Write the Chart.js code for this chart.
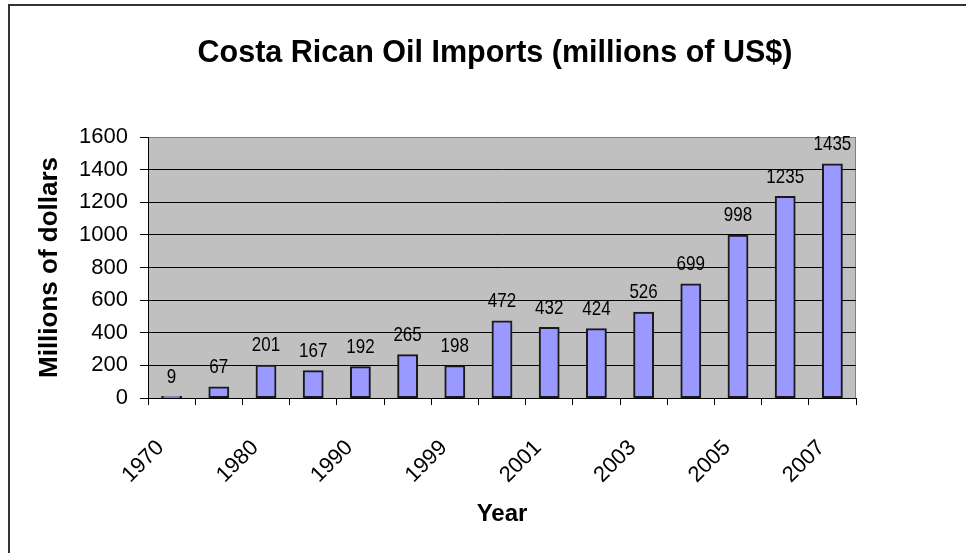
<!DOCTYPE html>
<html lang="en">
<head>
    <meta charset="UTF-8" />
    <title>Costa Rican Oil Imports</title>
    <script src="https://cdn.jsdelivr.net/npm/chart.js"></script>
    <style>
        body {
            margin: 0;
            background: #fff;
        }

        .frame {
            position: absolute;
            left: 8px;
            top: 4px;
            width: 1000px;
            height: 600px;
            border-top: 2px solid #333;
            border-left: 2px solid #333;
        }

        .chart-box {
            position: absolute;
            left: 0;
            top: 0;
            width: 966px;
            height: 553px;
        }
    </style>
</head>

<body>
    <div class="frame"></div>
    <div class="chart-box">
        <canvas id="oilChart"></canvas>
    </div>
</body>

</html>

<script>
    const years = ['1970', '1975', '1980', '1985', '1990', '1995', '1999', '2000',
        '2001', '2002', '2003', '2004', '2005', '2006', '2007'];
    const imports = [9, 67, 201, 167, 192, 265, 198, 472, 432, 424, 526, 699, 998, 1235, 1435];
    const yTicks = [0, 200, 400, 600, 800, 1000, 1200, 1400, 1600];

    const arial = "'Liberation Sans', Arial, sans-serif";

    // grey plot area + grey top/right edges like the Excel original
    const plotBackground = {
        id: 'plotBackground',
        beforeDraw(chart) {
            const { ctx, chartArea: a } = chart;
            ctx.save();
            ctx.fillStyle = '#C0C0C0';
            ctx.fillRect(a.left, a.top, a.right - a.left, a.bottom - a.top);
            ctx.strokeStyle = '#808080';
            ctx.lineWidth = 1;
            ctx.beginPath();
            ctx.moveTo(a.left, a.top + 0.5);
            ctx.lineTo(a.right - 0.5, a.top + 0.5);
            ctx.lineTo(a.right - 0.5, a.bottom);
            ctx.stroke();
            ctx.restore();
        }
    };

    // value labels above each bar (squeezed a bit, the original font is narrow)
    const valueLabels = {
        id: 'valueLabels',
        afterDatasetsDraw(chart) {
            const { ctx } = chart;
            const meta = chart.getDatasetMeta(0);
            ctx.save();
            ctx.font = '21px ' + arial;
            ctx.fillStyle = '#000';
            ctx.textAlign = 'center';
            ctx.textBaseline = 'alphabetic';
            meta.data.forEach((bar, i) => {
                ctx.save();
                ctx.translate(bar.x, bar.y - 14);
                ctx.scale(0.81, 1);
                ctx.fillText(imports[i], 0, 0);
                ctx.restore();
            });
            ctx.restore();
        }
    };

    const ctx = document.getElementById('oilChart').getContext('2d');

    new Chart(ctx, {
        type: 'bar',
        data: {
            labels: years,
            datasets: [{
                label: 'Oil imports',
                data: imports,
                backgroundColor: '#9999FF',
                borderColor: '#1a1a1a',
                borderWidth: 2,
                borderSkipped: false,
                inflateAmount: 0.5,
                categoryPercentage: 1,
                barPercentage: 0.42
            }]
        },
        options: {
            responsive: true,
            maintainAspectRatio: false,
            animation: false,
            layout: {
                padding: { left: 24, top: 0, right: 0, bottom: 0 }
            },
            plugins: {
                legend: { display: false },
                tooltip: { enabled: false },
                title: {
                    display: true,
                    text: 'Costa Rican Oil Imports (millions of US$)',
                    color: '#000',
                    font: { family: arial, size: 30.5, weight: 'bold', lineHeight: 1 },
                    padding: { top: 38, bottom: 68.5 }
                }
            },
            scales: {
                x: {
                    afterFit: (s) => { s.height = 155; },
                    grid: {
                        offset: true,
                        drawOnChartArea: false,
                        drawTicks: true,
                        tickLength: 7,
                        color: '#000'
                    },
                    border: { color: '#000', width: 1 },
                    ticks: {
                        autoSkip: false,
                        minRotation: 45,
                        maxRotation: 45,
                        padding: 30,
                        labelOffset: -11,
                        color: '#000',
                        font: { family: arial, size: 22 },
                        callback: (v, i) => (i % 2 === 0 ? years[i] : '')
                    },
                    title: {
                        display: true,
                        text: 'Year',
                        color: '#000',
                        font: { family: arial, size: 24, weight: 'bold', lineHeight: 1 },
                        padding: { top: 0, bottom: 27 }
                    }
                },
                y: {
                    min: yTicks[0],
                    max: yTicks[yTicks.length - 1],
                    afterFit: (s) => { s.width = 124; },
                    afterBuildTicks: (s) => { s.ticks = yTicks.map(v => ({ value: v })); },
                    grid: {
                        color: (c) => (c.tick && c.tick.value === 1600 ? '#808080' : '#000'),
                        tickColor: '#000',
                        tickLength: 8,
                        lineWidth: 1
                    },
                    border: { color: '#000', width: 1 },
                    ticks: {
                        padding: 12,
                        color: '#000',
                        font: { family: arial, size: 22 },
                        callback: (v) => String(v)
                    },
                    title: {
                        display: true,
                        text: 'Millions of dollars',
                        color: '#000',
                        font: { family: arial, size: 26, weight: 'bold', lineHeight: 1 },
                        padding: { top: 13, bottom: 0 }
                    }
                },
                y2: {
                    position: 'right',
                    afterFit: (s) => { s.width = 110; },
                    grid: { display: false },
                    border: { display: false },
                    ticks: { display: false }
                }
            }
        },
        plugins: [plotBackground, valueLabels]
    });
</script>
